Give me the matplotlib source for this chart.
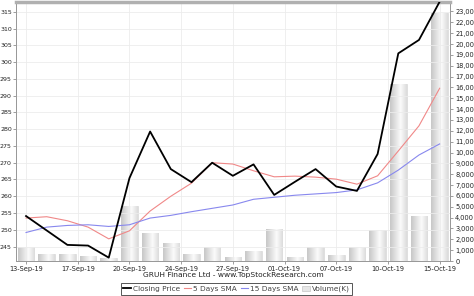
import matplotlib
matplotlib.use("Agg")
import matplotlib.pyplot as plt
import numpy as np
from matplotlib.ticker import FuncFormatter, MultipleLocator
from matplotlib.lines import Line2D
from matplotlib.patches import Patch

dates = ["13-Sep-19", "16-Sep-19", "17-Sep-19", "18-Sep-19", "19-Sep-19", "20-Sep-19",
         "23-Sep-19", "24-Sep-19", "25-Sep-19", "26-Sep-19", "27-Sep-19", "30-Sep-19",
         "01-Oct-19", "03-Oct-19", "04-Oct-19", "07-Oct-19", "09-Oct-19", "10-Oct-19",
         "11-Oct-19", "14-Oct-19", "15-Oct-19"]
close = [254.1, 249.8, 245.5, 245.3, 241.7, 265.4, 279.3, 268.1, 264.2, 270.0, 266.1,
         269.5, 260.4, 264.3, 268.1, 262.9, 261.6, 272.6, 302.6, 306.6, 318.0]
sma5 = [253.5, 253.9, 252.7, 250.8, 247.3, 249.7, 255.6, 260.0, 263.9, 270.0, 269.6,
        267.6, 265.8, 266.0, 265.7, 265.1, 263.6, 266.1, 273.5, 281.0, 292.2]
sma15 = [249.2, 250.8, 251.3, 251.5, 251.0, 251.5, 253.5, 254.3, 255.4, 256.4, 257.4,
         259.1, 259.7, 260.3, 260.7, 261.1, 261.9, 264.0, 267.8, 272.3, 275.6]
volume_k = [1250, 680, 620, 460, 300, 5050, 2580, 1650, 680, 1290, 370, 920, 2970, 400,
            1290, 590, 1290, 2830, 16300, 4120, 22820]
tick_pos = [0, 2.5, 5, 7.5, 10, 12.5, 15, 17.5, 20]
tick_labels = ["13-Sep-19", "17-Sep-19", "20-Sep-19", "24-Sep-19", "27-Sep-19",
               "01-Oct-19", "07-Oct-19", "10-Oct-19", "15-Oct-19"]
title = "GRUH Finance Ltd - www.TopStockResearch.com"

x = np.arange(len(dates))

fig = plt.figure(figsize=(4.74, 2.96), dpi=100)
fig.patch.set_facecolor("white")
ax = fig.add_axes([15.7 / 474, 1 - 261 / 296, (450 - 15.7) / 474, (261 - 1.7) / 296])
ax2 = ax.twinx()
ax.set_zorder(ax2.get_zorder() + 1)
ax.patch.set_visible(False)
ax2.patch.set_facecolor("white")

# volume bars with gradient
bars = ax2.bar(x, volume_k, width=0.8, color="#e6e6e6", edgecolor="#d0d0d0", linewidth=0.4, zorder=1)
grad = np.concatenate([np.linspace(0.78, 0.98, 40), np.linspace(0.98, 0.86, 24)])
grad_img = np.tile(grad, (2, 1))
for b in bars:
    bx, by = b.get_x(), b.get_y()
    w, h = b.get_width(), b.get_height()
    im = ax2.imshow(grad_img, cmap="gray", vmin=0, vmax=1, aspect="auto",
                    extent=(bx, bx + w, by, by + h), zorder=1.5, interpolation="bilinear")
    im.set_clip_path(b)
ax2.set_ylim(0, 23900)
ax2.yaxis.set_major_locator(MultipleLocator(1000))
ax2.yaxis.set_major_formatter(FuncFormatter(lambda v, p: f"{int(v):,}"))

ax.plot(x, sma5, color="#f08888", lw=0.8, zorder=3)
ax.plot(x, sma15, color="#8888ee", lw=0.8, zorder=3)
ax.plot(x, close, color="black", lw=1.3, zorder=4)

ax.set_xlim(-0.5, 20.5)
ax.set_ylim(240.7, 318)
ax.set_yticks(np.arange(245, 316, 5))
ax.set_xticks(tick_pos)
ax.set_xticklabels(tick_labels)
ax.grid(True, color="#ececec", lw=0.6)
ax.set_axisbelow(True)

for a in (ax, ax2):
    for s in a.spines.values():
        s.set_color("#999999")
        s.set_linewidth(0.7)
ax.spines["top"].set_color("#b0b0b0")
ax.spines["top"].set_linewidth(2.5)
ax2.spines["top"].set_visible(False)

ax.tick_params(axis="x", labelsize=4.8, length=2.5, width=0.5, color="#777777", pad=1.2, labelcolor="#222222")
ax.tick_params(axis="y", labelsize=4.5, length=2, width=0.5, color="#777777", pad=0.8, labelcolor="#222222")
ax2.tick_params(axis="y", labelsize=4.8, length=2.5, width=0.5, color="#777777", pad=1.2, labelcolor="#222222")

fig.text(0.4916, 1 - 275.5 / 296, title, ha="center", va="center", fontsize=5.4, color="#222222")

handles = [Line2D([], [], color="black", lw=1.3),
           Line2D([], [], color="#f08888", lw=0.8),
           Line2D([], [], color="#8888ee", lw=0.8),
           Patch(facecolor="#e6e6e6", edgecolor="#bbbbbb", lw=0.4)]
labels = ["Closing Price", "5 Days SMA", "15 Days SMA", "Volume(K)"]
leg = fig.legend(handles, labels, loc="center", bbox_to_anchor=(0.499, 1 - 289 / 296), ncol=4,
                 fontsize=5.3, handlelength=1.0, handleheight=0.8, columnspacing=0.5,
                 handletextpad=0.3, fancybox=False, edgecolor="#555555", borderpad=0.35,
                 framealpha=1)
leg.get_frame().set_linewidth(0.7)
for t in leg.get_texts():
    t.set_color("#444444")

fig.savefig("out.png", dpi=100, facecolor="white")
